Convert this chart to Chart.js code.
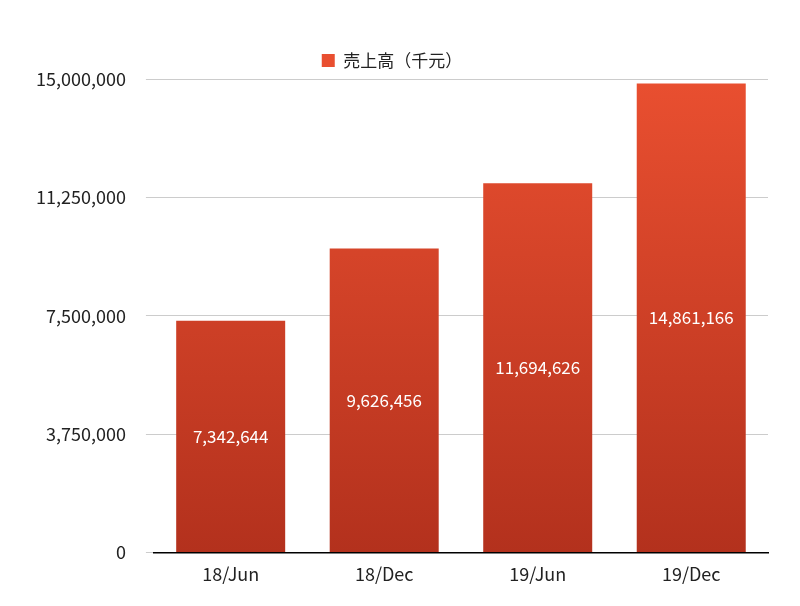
<!DOCTYPE html>
<html><head><meta charset="utf-8">
<script src="https://cdn.jsdelivr.net/npm/chart.js@4"></script>
<style>body{margin:0;background:#fff}#w{width:800px;height:606px}</style>
</head><body><div id="w"><canvas id="c"></canvas></div>
<script>
const categories=["18/Jun","18/Dec","19/Jun","19/Dec"];
const values=[7342644,9626456,11694626,14861166];
const seriesName="売上高（千元）";
const ticks=[0,3750000,7500000,11250000,15000000];
const ctx=document.getElementById('c').getContext('2d');
function grad(c){const a=c.chart.chartArea;if(!a)return '#d8412a';const g=c.chart.ctx.createLinearGradient(0,a.top,0,a.bottom);g.addColorStop(0,'#e94f30');g.addColorStop(1,'#b3311d');return g;}
const labels={id:'lbl',afterDatasetsDraw(ch){const c=ch.ctx;const m=ch.getDatasetMeta(0);c.save();c.fillStyle='#fff';c.font='17px "Noto Sans CJK JP", "DejaVu Sans"';c.textAlign='center';c.textBaseline='middle';m.data.forEach((b,i)=>{c.fillText(values[i].toLocaleString('en-US'),b.x,(b.y+b.base)/2);});c.restore();}};
new Chart(ctx,{type:'bar',data:{labels:categories,datasets:[{label:seriesName,data:values,backgroundColor:grad,categoryPercentage:0.71,barPercentage:1}]},
options:{responsive:true,maintainAspectRatio:false,animation:false,layout:{padding:{left:16,right:32,top:18,bottom:18}},
plugins:{legend:{labels:{boxWidth:13,boxHeight:13,color:'#222',font:{size:17,family:'"Noto Sans CJK JP"'},padding:34}},tooltip:{enabled:false}},
scales:{x:{grid:{display:false},border:{color:'#000',width:1.5},ticks:{color:'#222',font:{size:18,family:'"Noto Sans CJK JP"'}}},
y:{min:0,max:15000000,afterBuildTicks(s){s.ticks=ticks.map(v=>({value:v}));},border:{display:false},grid:{color:'#ccc'},ticks:{color:'#222',padding:20,font:{size:18,family:'"Noto Sans CJK JP"'},callback:v=>v.toLocaleString('en-US')}}}},
plugins:[labels]});
</script></body></html>
